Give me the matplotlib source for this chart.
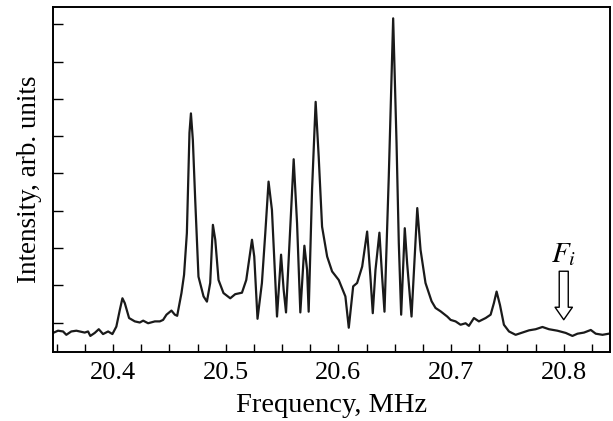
import numpy as np
import matplotlib
matplotlib.use("Agg")
import matplotlib.pyplot as plt
from matplotlib.ticker import MultipleLocator

plt.rcParams['font.family'] = ['Liberation Serif', 'DejaVu Serif']
plt.rcParams['mathtext.fontset'] = 'stix'

# spectrum (frequency in MHz, intensity in arb. units)
freq = [20.3467, 20.3511, 20.3556, 20.3585, 20.3629, 20.3674, 20.3748, 20.3778,
        20.3798, 20.3837, 20.3873, 20.3911, 20.3956, 20.3994, 20.4029, 20.4060,
        20.4083, 20.4104, 20.4142, 20.4193, 20.4237, 20.4267, 20.4311, 20.4371,
        20.4415, 20.4444, 20.4474, 20.4518, 20.4548, 20.4569, 20.4607, 20.4630,
        20.4655, 20.4678, 20.4691, 20.4708, 20.4729, 20.4758, 20.4803, 20.4833,
        20.4862, 20.4886, 20.4907, 20.4936, 20.4980, 20.5040, 20.5084, 20.5144,
        20.5182, 20.5212, 20.5233, 20.5253, 20.5282, 20.5321, 20.5351, 20.5380,
        20.5410, 20.5440, 20.5455, 20.5491, 20.5514, 20.5535, 20.5567, 20.5603,
        20.5633, 20.5662, 20.5698, 20.5722, 20.5736, 20.5766, 20.5798, 20.5825,
        20.5855, 20.5900, 20.5944, 20.6003, 20.6062, 20.6092, 20.6131, 20.6166,
        20.6211, 20.6255, 20.6284, 20.6305, 20.6329, 20.6364, 20.6388, 20.6409,
        20.6447, 20.6486, 20.6516, 20.6536, 20.6557, 20.6589, 20.6610, 20.6649,
        20.6700, 20.6729, 20.6773, 20.6827, 20.6862, 20.6907, 20.6966, 20.6996,
        20.7040, 20.7084, 20.7129, 20.7158, 20.7203, 20.7247, 20.7307, 20.7351,
        20.7380, 20.7404, 20.7434, 20.7469, 20.7514, 20.7573, 20.7633, 20.7692,
        20.7751, 20.7811, 20.7869, 20.7944, 20.8018, 20.8077, 20.8122, 20.8180,
        20.8240, 20.8284, 20.8344, 20.8400]
intensity = [-0.28, -0.22, -0.24, -0.33, -0.24, -0.22, -0.27, -0.24,
             -0.36, -0.28, -0.18, -0.31, -0.24, -0.31, -0.11, 0.34,
             0.65, 0.52, 0.12, 0.03, 0.00, 0.05, -0.02, 0.03,
             0.03, 0.07, 0.21, 0.32, 0.21, 0.18, 0.79, 1.28,
             2.40, 5.09, 5.61, 4.90, 3.29, 1.23, 0.70, 0.56,
             1.06, 2.62, 2.22, 1.14, 0.79, 0.65, 0.76, 0.80,
             1.14, 1.77, 2.22, 1.77, 0.10, 1.06, 2.40, 3.78,
             3.02, 1.14, 0.16, 1.82, 0.88, 0.27, 2.22, 4.38,
             2.66, 0.27, 2.06, 1.41, 0.29, 3.56, 5.92, 4.45,
             2.57, 1.77, 1.37, 1.14, 0.70, -0.14, 0.97, 1.06,
             1.50, 2.44, 1.23, 0.25, 1.41, 2.41, 1.23, 0.29,
             3.91, 8.16, 4.81, 2.13, 0.21, 2.53, 1.59, 0.16,
             3.07, 1.95, 1.06, 0.57, 0.39, 0.30, 0.16, 0.07,
             0.03, -0.06, -0.02, -0.09, 0.12, 0.03, 0.12, 0.21,
             0.52, 0.83, 0.47, -0.06, -0.24, -0.33, -0.27, -0.21,
             -0.18, -0.12, -0.18, -0.22, -0.28, -0.36, -0.30, -0.27,
             -0.20, -0.30, -0.33, -0.30]

arrow_freq = 20.8
arrow_top = 1.45
arrow_tip = 0.0

fig = plt.figure(figsize=(6.13, 4.21), dpi=100)
ax = fig.add_axes([0.0865, 0.164, 0.9085, 0.819])

ax.plot(freq, intensity, color='#1a1a1a', lw=1.6, solid_joinstyle='round')

ax.set_xlim(20.3467, 20.841)
ax.set_ylim(-0.79, 8.46)
ax.xaxis.set_major_locator(MultipleLocator(0.1))
ax.xaxis.set_minor_locator(MultipleLocator(0.025))
ax.yaxis.set_major_locator(MultipleLocator(1))
ax.set_yticklabels([])
ax.tick_params(direction='in', length=6, width=1.0, labelsize=19, pad=7)
ax.tick_params(which='minor', direction='in', length=6, width=1.0)
ax.tick_params(axis='y', length=7)
for s in ax.spines.values():
    s.set_linewidth(1.4)

ax.set_xlabel('Frequency, MHz', fontsize=20.5, labelpad=7)
ax.set_ylabel('Intensity, arb. units', fontsize=19.5, labelpad=1)

ax.annotate('', xy=(arrow_freq, arrow_tip), xytext=(arrow_freq, arrow_top),
            arrowprops=dict(arrowstyle='simple,head_length=0.9,head_width=1.25,tail_width=0.65',
                            fc='white', ec='black', lw=1.0))
ax.text(arrow_freq, 1.82, '$F_i$', ha='center', va='center', fontsize=21)

fig.savefig('out.png', dpi=100)
